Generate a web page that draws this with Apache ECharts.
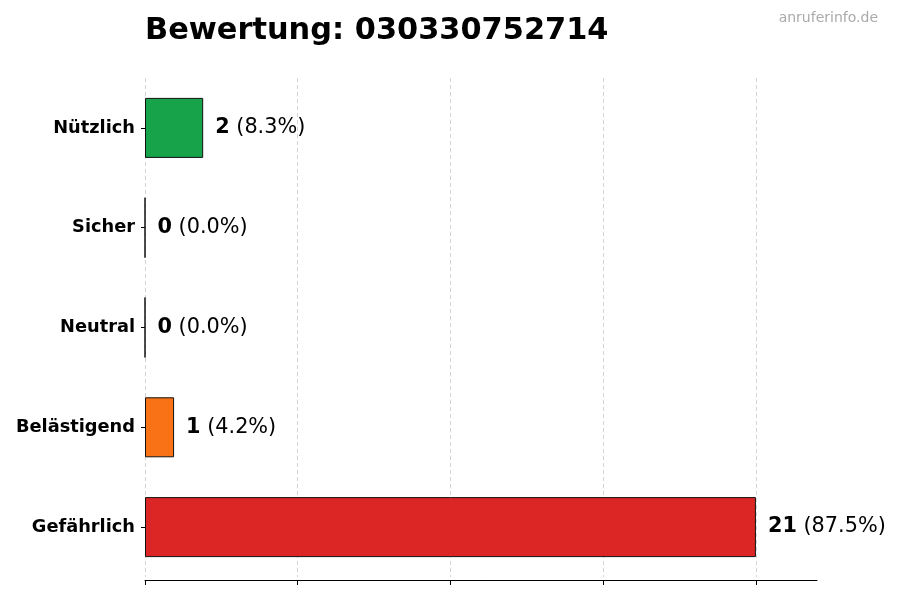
<!DOCTYPE html>
<html><head><meta charset="utf-8">
<script src="https://cdn.jsdelivr.net/npm/echarts@6/dist/echarts.min.js"></script>
<style>html,body{margin:0;padding:0;background:#fff}#c{width:900px;height:600px}</style>
</head><body><div id="c"></div>
<script>
const categories = ['Gefährlich', 'Belästigend', 'Neutral', 'Sicher', 'Nützlich'];
const values = [21, 1, 0, 0, 2];
const colors = ['#dc2626', '#f97316', '#9ca3af', '#3b82f6', '#16a34a'];
const xTicks = [0, 5.25, 10.5, 15.75, 21];
const titleText = 'Bewertung: 030330752714';
const watermark = 'anruferinfo.de';

const total = values.reduce((a, b) => a + b, 0);
const FONT = 'DejaVu Sans';
const chart = echarts.init(document.getElementById('c'), null, {renderer: 'canvas'});
chart.setOption({
  animation: false,
  backgroundColor: '#fff',
  title: [
    {text: titleText, left: 140, top: 11, textStyle: {fontFamily: FONT, fontSize: 30.4, fontWeight: 'bold', color: '#000'}},
    {text: watermark, right: 17, top: 6, textStyle: {fontFamily: FONT, fontSize: 14, fontWeight: 'normal', color: '#aaaaaa'}}
  ],
  grid: {left: 145, right: 83, top: 78, bottom: 23, containLabel: false},
  xAxis: {
    type: 'value', min: 0, max: 23.1, interval: 5.25, offset: 3,
    axisLine: {show: true, lineStyle: {color: '#000', width: 1}},
    axisTick: {show: true, length: 5, customValues: xTicks, lineStyle: {color: '#000'}},
    axisLabel: {show: false},
    splitLine: {show: true, lineStyle: {color: '#d4d4d4', type: [4, 3], width: 1}}
  },
  yAxis: {
    type: 'category', data: categories,
    axisLine: {show: false},
    axisTick: {show: true, alignWithLabel: true, length: 4, lineStyle: {color: '#000'}},
    axisLabel: {fontFamily: FONT, fontSize: 17.8, fontWeight: 'bold', color: '#000', margin: 10}
  },
  series: [{
    type: 'bar',
    barWidth: 60,
    data: values.map((v, i) => ({value: v, itemStyle: {color: colors[i]}})),
    itemStyle: {borderColor: '#111', borderWidth: 1},
    label: {
      show: true, position: 'right', distance: 12,
      formatter: p => '{b|' + p.value + '}{n| (' + (p.value / total * 100).toFixed(1) + '%)}',
      rich: {
        b: {fontFamily: FONT, fontSize: 20.8, fontWeight: 'bold', color: '#000'},
        n: {fontFamily: FONT, fontSize: 20.8, color: '#000'}
      }
    }
  }]
});
</script></body></html>
